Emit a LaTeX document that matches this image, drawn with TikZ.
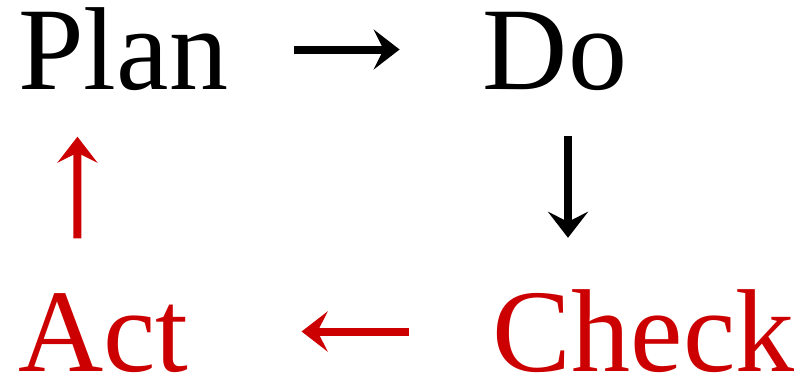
\documentclass[tikz,border=0pt]{standalone}
\usepackage{fontspec}
\setmainfont{Liberation Serif}
\usepackage{xcolor}
\usetikzlibrary{positioning, arrows.meta}
\definecolor{pdcared}{HTML}{CC0000}

\begin{document}
\begin{tikzpicture}[x=1pt, y=-1pt,
	word/.style={inner sep=0, anchor=base west, text height=80pt, text depth=0pt, font=\fontsize{118}{118}\selectfont},
	arr/.style={line width=8pt, -{Stealth[length=26pt, width=40pt, inset=10pt]}}]
	\useasboundingbox (0,0) rectangle (803,375);
	\node[word] at(18, 89.5) (plan) {Plan};
	\node[word] at(482.6, 89.5) (do) {Do};
	\node[word, text=pdcared] at(17.8, 371.5) (act) {Act};
	\node[word, text=pdcared] at(492.7, 371.5) (check) {Check};
	\draw[arr, shorten <=66pt, shorten >=83pt] (plan.east) -- (do.west);
	\draw[arr, shorten <=46.5pt, shorten >=53.5pt] ([xshift=85.4pt]do.south west) -- ([xshift=85.4pt]do.south west |- check.north);
	\draw[arr, pdcared, shorten <=84pt, shorten >=113pt] (check.west) -- (act.east);
	\draw[arr, pdcared, shorten <=53pt, shorten >=47pt] ([xshift=59.5pt]act.north west) -- ([xshift=59.5pt]plan.south west);
\end{tikzpicture}
\end{document}
